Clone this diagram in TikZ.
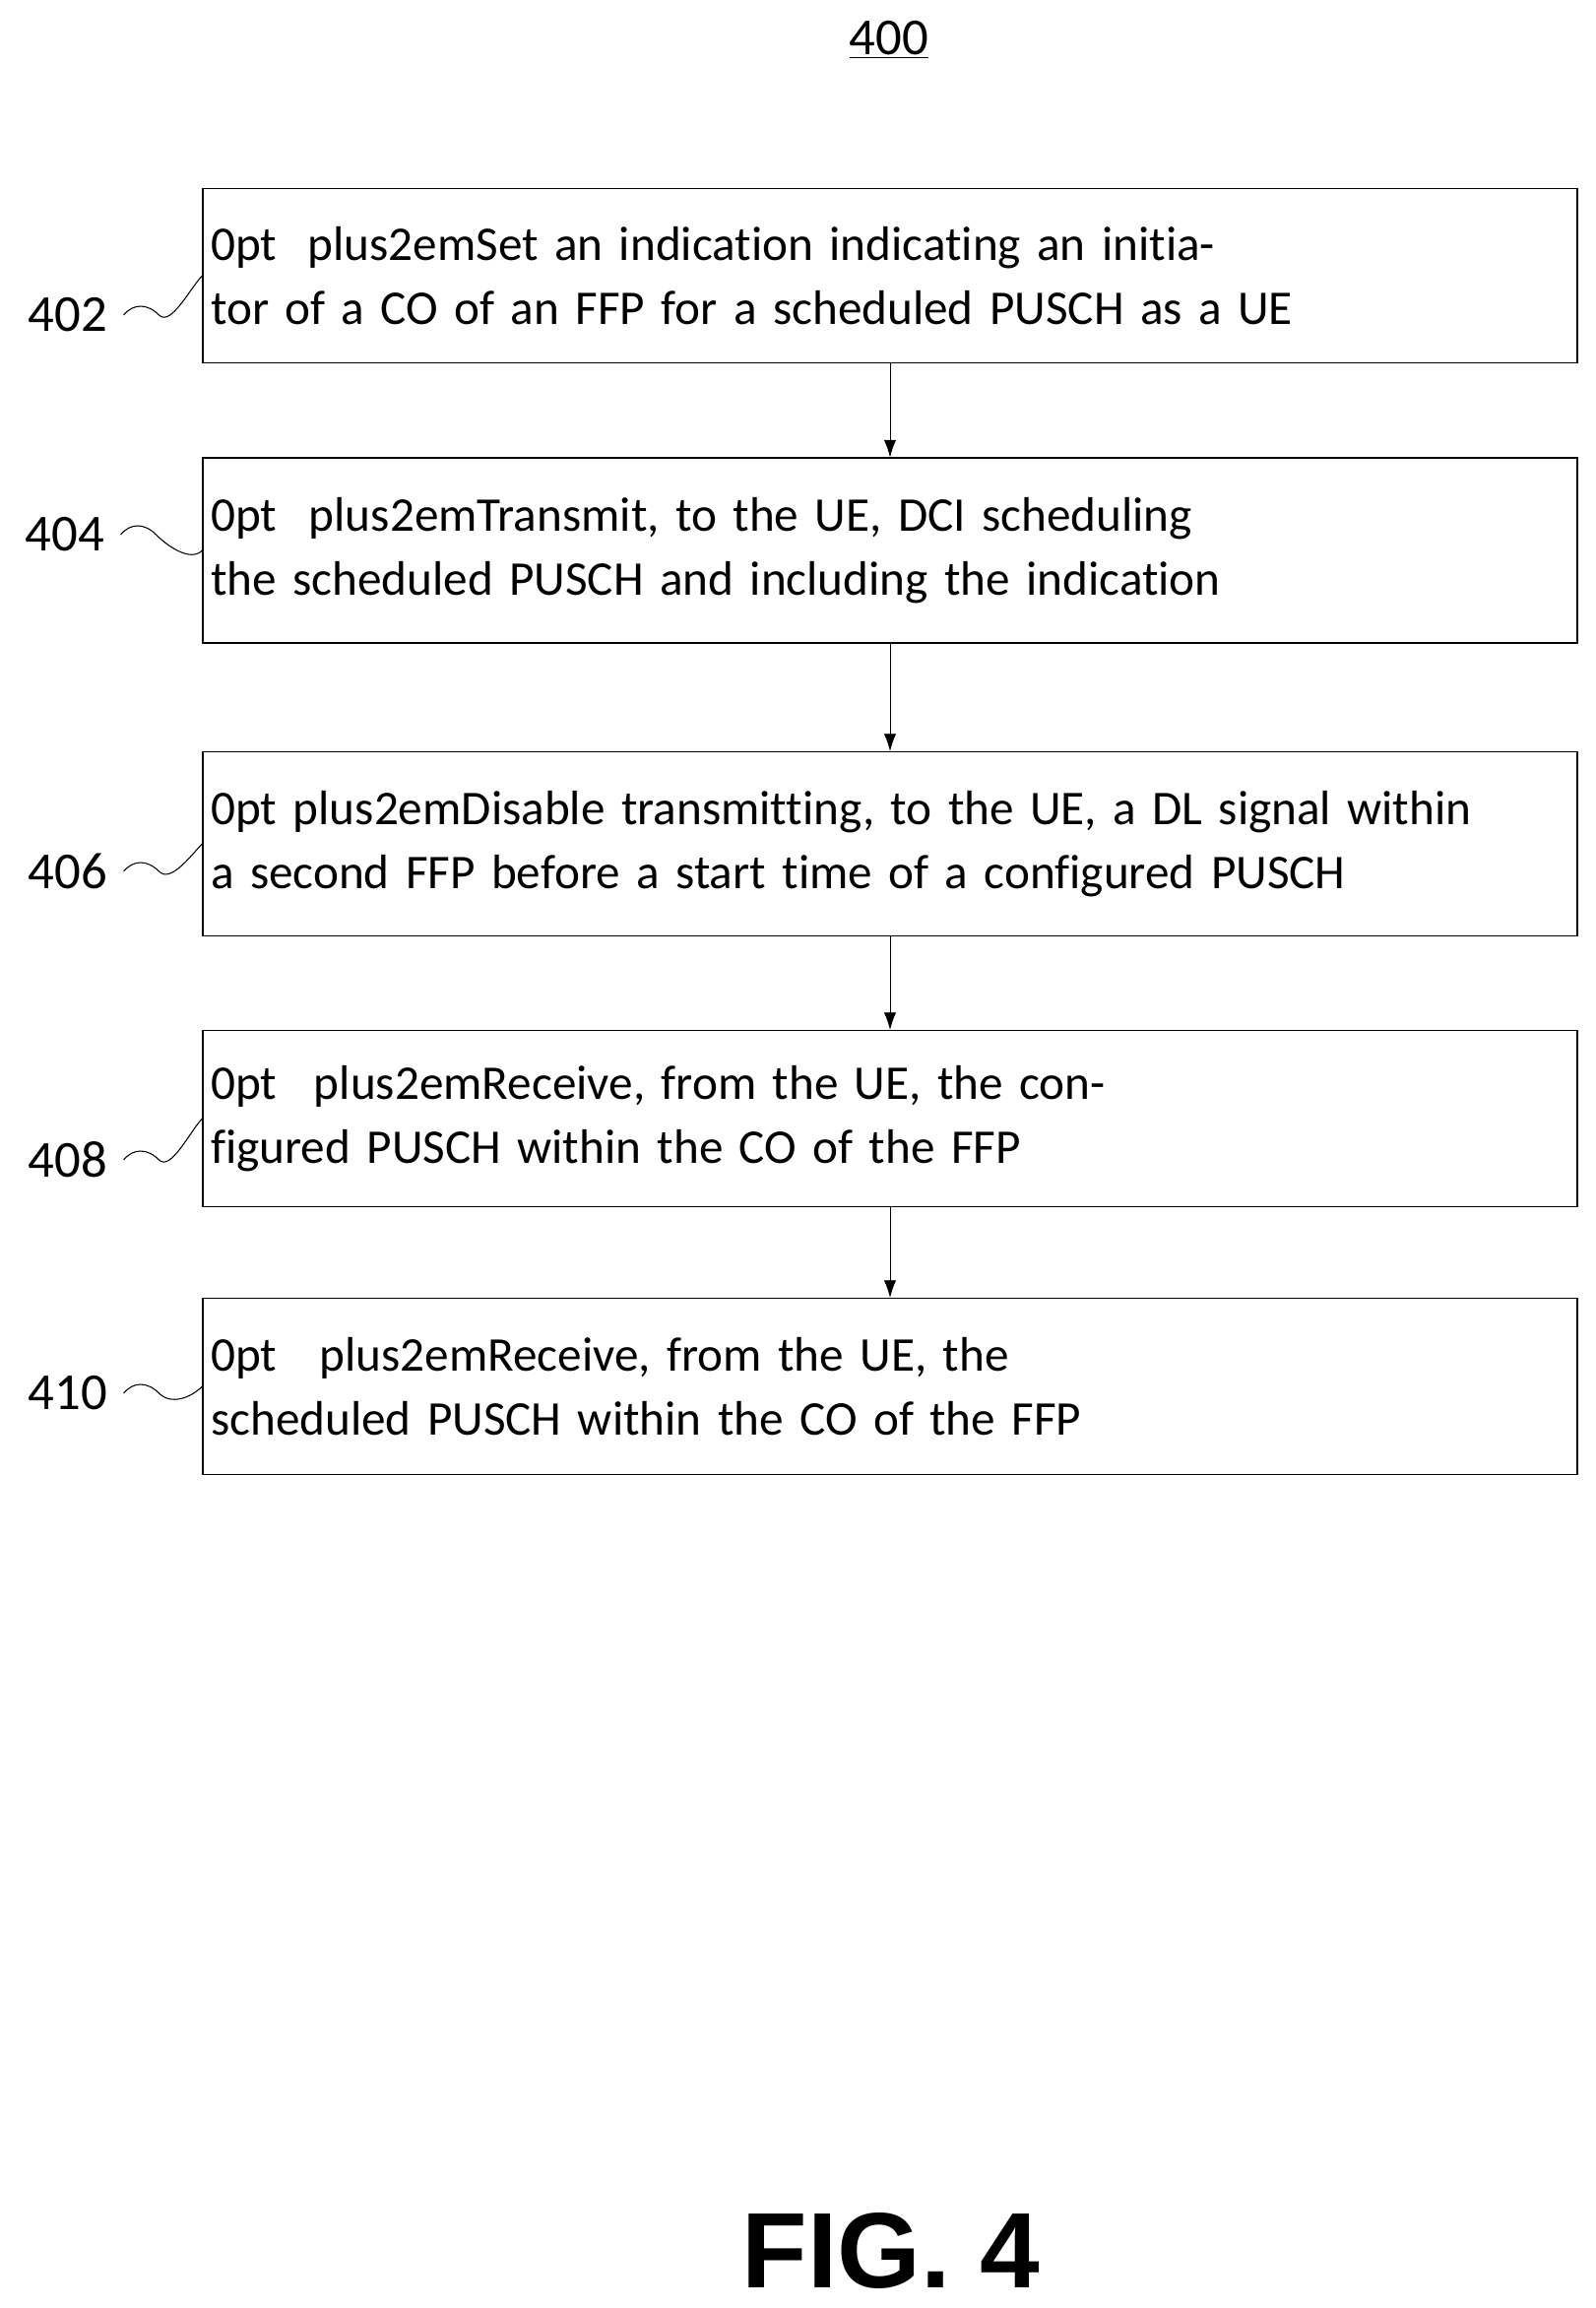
\documentclass[tikz,border=0pt]{standalone}
\usepackage{fontspec}
\setmainfont[Ligatures=NoCommon]{Carlito}
\newfontfamily\figfont{Liberation Sans}
\usetikzlibrary{positioning}
\usetikzlibrary{arrows.meta}

\begin{document}
\begin{tikzpicture}[x=0.02cm, y=-0.02cm,
    stepbox/.style = {draw, thick, minimum width = 27.92cm, minimum height = 3.6cm, text width = 27.6cm, align = center, inner sep = 0pt, font = \fontsize{28}{37}\selectfont\hyphenpenalty=10000},
    num/.style = {font = \fontsize{30}{36}\selectfont, anchor = east},
    flow/.style = {-{Latex[length=10pt,width=7pt]}, thin},
    wave/.style = {semithick},
    ]
    \useasboundingbox (0,0) rectangle (1621,2344);
    \node[font = \fontsize{30}{36}\selectfont] (top) at (903,40) {\underline{400}};

    \node[stepbox, minimum height = 3.54cm] (s402) at (904,280) {Set an indication indicating an initiator of a CO of an FFP for a scheduled PUSCH as a UE};
    \node[stepbox, minimum height = 3.76cm] (s404) at (904,559) {Transmit, to the UE, DCI scheduling the scheduled PUSCH and including the indication};
    \node[stepbox, minimum height = 3.74cm] (s406) at (904,857) {Disable transmitting, to the UE, a DL signal within a second FFP before a start time of a configured PUSCH};
    \node[stepbox, minimum height = 3.58cm] (s408) at (904,1136) {Receive, from the UE, the configured PUSCH within the CO of the FFP};
    \node[stepbox, minimum height = 3.58cm] (s410) at (904,1408) {Receive, from the UE, the scheduled PUSCH within the CO of the FFP};

    \node[num] (n402) at (115,320) {402};
    \node[num] (n404) at (112,543) {404};
    \node[num] (n406) at (115,885) {406};
    \node[num] (n408) at (115,1178) {408};
    \node[num] (n410) at (115,1415) {410};

    \foreach \i in {402,404,406,408,410}
        \draw[wave] ([xshift=6pt]n\i.east) .. controls +(10,-12) and +(-12,-12) .. +(36,0) .. controls +(12,12) and +(-12,12) .. (s\i.west);

    \draw[flow] (s402) -- (s404);
    \draw[flow] (s404) -- (s406);
    \draw[flow] (s406) -- (s408);
    \draw[flow] (s408) -- (s410);

    \node[font = \figfont\bfseries\fontsize{62}{66}\selectfont] (fig) at (905,2286) {FIG. 4};
\end{tikzpicture}
\end{document}
